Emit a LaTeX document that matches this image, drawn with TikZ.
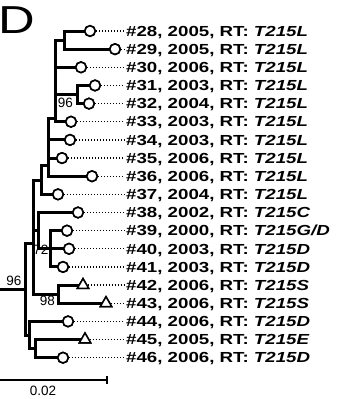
\documentclass[tikz,border=0pt]{standalone}
\usepackage{fontspec}
\usetikzlibrary{shapes.geometric}
\setmainfont{Liberation Sans}
\newfontfamily\labfont[FakeStretch=1.28]{Liberation Sans}
\newfontfamily\bigfont[FakeStretch=1.3]{Liberation Sans}
\begin{document}
\begin{tikzpicture}[x=1pt,y=-1pt,
  br/.style={line width=3pt, line cap=rect},
  circ/.style={circle, draw, line width=1.6pt, fill=white, minimum size=10.5pt, inner sep=0pt},
  tri/.style={regular polygon, regular polygon sides=3, draw, line width=1.5pt, fill=white, minimum size=13pt, inner sep=0pt},
  dots/.style={line width=1.3pt, dash pattern=on 1.3pt off 1.7pt},
  lab/.style={anchor=base west, inner sep=0pt, font=\labfont\bfseries\fontsize{14.6}{14.6}\selectfont},
  bs/.style={inner sep=0pt, font=\fontsize{13.5}{13.5}\selectfont}]
\fill[white] (0,0) rectangle (338,399);
\useasboundingbox (0,0) rectangle (338,399);

% letter
\node[anchor=base west, inner sep=0pt, font=\bigfont\fontsize{39}{39}\selectfont] (pD) at (-1.5,33.5) {D};

% leaf symbols
\node[circ] (c28) at (90,31.0) {};
\node[circ] (c29) at (115,49.15) {};
\node[circ] (c30) at (81,67.3) {};
\node[circ] (c31) at (95,85.45) {};
\node[circ] (c32) at (89,103.6) {};
\node[circ] (c33) at (71,121.75) {};
\node[circ] (c34) at (70,139.9) {};
\node[circ] (c35) at (62,158.05) {};
\node[circ] (c36) at (92,176.2) {};
\node[circ] (c37) at (58,194.35) {};
\node[circ] (c38) at (78,212.5) {};
\node[circ] (c39) at (67,230.65) {};
\node[circ] (c40) at (69,248.8) {};
\node[circ] (c41) at (63,266.95) {};
\node[tri]  (c42) at (83,285.1) {};
\node[tri]  (c43) at (106,303.25) {};
\node[circ] (c44) at (68,321.4) {};
\node[tri]  (c45) at (85,339.55) {};
\node[circ] (c46) at (63,357.7) {};

% labels
\node[lab] (t28) at (126,36.2) {\#28, 2005, RT: \textit{T215L}};
\node[lab] (t29) at (126,54.35) {\#29, 2005, RT: \textit{T215L}};
\node[lab] (t30) at (126,72.5) {\#30, 2006, RT: \textit{T215L}};
\node[lab] (t31) at (126,90.65) {\#31, 2003, RT: \textit{T215L}};
\node[lab] (t32) at (126,108.8) {\#32, 2004, RT: \textit{T215L}};
\node[lab] (t33) at (126,126.95) {\#33, 2003, RT: \textit{T215L}};
\node[lab] (t34) at (126,145.1) {\#34, 2003, RT: \textit{T215L}};
\node[lab] (t35) at (126,163.25) {\#35, 2006, RT: \textit{T215L}};
\node[lab] (t36) at (126,181.4) {\#36, 2006, RT: \textit{T215L}};
\node[lab] (t37) at (126,199.55) {\#37, 2004, RT: \textit{T215L}};
\node[lab] (t38) at (126,217.7) {\#38, 2002, RT: \textit{T215C}};
\node[lab] (t39) at (126,235.85) {\#39, 2000, RT: \textit{T215G/D}};
\node[lab] (t40) at (126,254.0) {\#40, 2003, RT: \textit{T215D}};
\node[lab] (t41) at (126,272.15) {\#41, 2003, RT: \textit{T215D}};
\node[lab] (t42) at (126,290.3) {\#42, 2006, RT: \textit{T215S}};
\node[lab] (t43) at (126,308.45) {\#43, 2006, RT: \textit{T215S}};
\node[lab] (t44) at (126,326.6) {\#44, 2006, RT: \textit{T215D}};
\node[lab] (t45) at (126,344.75) {\#45, 2005, RT: \textit{T215E}};
\node[lab] (t46) at (126,362.9) {\#46, 2006, RT: \textit{T215D}};

% dotted leaders
\foreach \k in {28,...,46}{
  \draw[dots] (c\k.east) -- ([xshift=-1.5pt]c\k.east -| t\k.west);
}

% internal nodes
\coordinate (P1) at (64,40.1);
\coordinate (P2) at (77,94.5);
\coordinate (N1) at (55,118);
\coordinate (N2) at (48,165);
\coordinate (N3) at (41,180);
\coordinate (A) at (33,243);
\coordinate (F) at (38,230);
\coordinate (E) at (50,248.8);
\coordinate (D) at (58,294.2);
\coordinate (B) at (29,335);
\coordinate (Q) at (35,348.6);
\coordinate (R) at (25,289);
\coordinate (R0) at (0,289);

% P1
\draw[br] (P1 |- c28) -- (P1 |- c29);
\draw[br] (P1 |- c28) -- (c28.west);
\draw[br] (P1 |- c29) -- (c29.west);
% P2
\draw[br] (P2 |- c31) -- (P2 |- c32);
\draw[br] (P2 |- c31) -- (c31.west);
\draw[br] (P2 |- c32) -- (c32.west);
% N1
\draw[br] (N1 |- P1) -- (N1 |- c33);
\draw[br] (N1 |- P1) -- (P1);
\draw[br] (N1 |- c30) -- (c30.west);
\draw[br] (N1 |- P2) -- (P2);
\draw[br] (N1 |- c33) -- (c33.west);
% N2
\draw[br] (N2 |- N1) -- (N2 |- c36);
\draw[br] (N2 |- N1) -- (N1);
\draw[br] (N2 |- c34) -- (c34.west);
\draw[br] (N2 |- c35) -- (c35.west);
\draw[br] (N2 |- c36) -- (c36.west);
% N3
\draw[br] (N3 |- N2) -- (N3 |- c37);
\draw[br] (N3 |- N2) -- (N2);
\draw[br] (N3 |- c37) -- (c37.west);
% A
\draw[br] (A |- N3) -- (A |- D);
\draw[br] (A |- N3) -- (N3);
\draw[br] (A |- F) -- (F);
\draw[br] (A |- D) -- (D);
% F
\draw[br] (F |- c38) -- (F |- E);
\draw[br] (F |- c38) -- (c38.west);
\draw[br] (F |- E) -- (E);
% E
\draw[br] (E |- c39) -- (E |- c41);
\draw[br] (E |- c39) -- (c39.west);
\draw[br] (E |- c40) -- (c40.west);
\draw[br] (E |- c41) -- (c41.west);
% D
\draw[br] (D |- c42) -- (D |- c43);
\draw[br] (D |- c42) -- (c42.west);
\draw[br] (D |- c43) -- (c43.west);
% Q
\draw[br] (Q |- c45) -- (Q |- c46);
\draw[br] (Q |- c45) -- (c45.west);
\draw[br] (Q |- c46) -- (c46.west);
% B
\draw[br] (B |- c44) -- (B |- Q);
\draw[br] (B |- c44) -- (c44.west);
\draw[br] (B |- Q) -- (Q);
% R
\draw[br] (R |- A) -- (R |- B);
\draw[br] (R |- A) -- (A);
\draw[br] (R |- B) -- (B);
\draw[line width=3pt] (R0) -- (R);

% redraw symbols on top
\foreach \k in {28,...,41,44,46}{
  \node[circ] at (c\k) {};
}
\foreach \k in {42,43,45}{
  \node[tri] at (c\k) {};
}

% bootstrap values
\node[bs] (b96a) at (65.5,102.5) {96};
\node[bs] (b72) at (41,250) {72};
\node[bs] (b98) at (47.5,300.5) {98};
\node[bs] (b96r) at (14,281) {96};

% scale bar
\coordinate (s0) at (0,380);
\coordinate (s1) at (107,380);
\draw[line width=2.4pt] (s0) -- (s1);
\draw[line width=2.4pt] ([yshift=4pt]s1) -- ([yshift=-4pt]s1);
\node[bs] (sl) at (43,391) {0.02};
\end{tikzpicture}
\end{document}
